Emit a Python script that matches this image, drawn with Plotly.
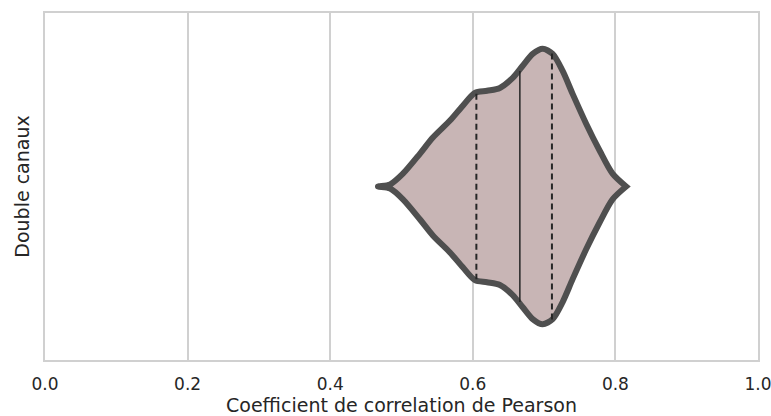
import plotly.graph_objects as go

# ─── Data (violin outline + quartiles) ─────────────────────────────────────
corr_values = [0.467, 0.484, 0.502, 0.526, 0.544, 0.568, 0.586, 0.603, 0.620,
               0.638, 0.656, 0.670, 0.684, 0.698, 0.712, 0.726, 0.740, 0.759,
               0.778, 0.796, 0.815]
density = [0.0, 0.006, 0.037, 0.095, 0.141, 0.190, 0.233, 0.270, 0.276,
           0.284, 0.313, 0.348, 0.382, 0.397, 0.382, 0.333, 0.267, 0.181,
           0.103, 0.037, 0.0]
quartiles = [0.605, 0.666, 0.711]
quartile_density = [0.267, 0.333, 0.383]
category = "Double canaux"

COLORS = {
    "fill": "#c8b5b5",
    "edge": "#4f4f4f",
    "inner": "#262626",
    "grid": "#d0d0d0",
    "text": "#262626",
}

fig = go.Figure()

# violin body: upper half then lower half, closed
xs = corr_values + corr_values[::-1]
ys = density + [-d for d in density[::-1]]
fig.add_trace(go.Scatter(
    x=xs, y=ys,
    mode="lines",
    fill="toself",
    fillcolor=COLORS["fill"],
    line=dict(color=COLORS["edge"], width=6, shape="spline", smoothing=0.8),
    hoverinfo="skip",
    showlegend=False,
))

# quartile lines: Q1 / Q3 dashed, median solid
for i, (q, d) in enumerate(zip(quartiles, quartile_density)):
    fig.add_trace(go.Scatter(
        x=[q, q], y=[-d, d],
        mode="lines",
        line=dict(color=COLORS["inner"], width=1.5 if i == 1 else 2,
                  dash="solid" if i == 1 else "6px,4px"),
        hoverinfo="skip",
        showlegend=False,
    ))

fig.update_layout(
    width=771, height=416,
    margin=dict(l=45, r=13, t=13, b=56),
    paper_bgcolor="white",
    plot_bgcolor="white",
    font=dict(family="DejaVu Sans", size=17, color=COLORS["text"]),
    xaxis=dict(
        range=[0, 1],
        tickvals=[0, 0.2, 0.4, 0.6, 0.8, 1.0],
        ticktext=["0.0", "0.2", "0.4", "0.6", "0.8", "1.0"],
        tickfont=dict(size=17),
        ticklabeloverflow="allow",
        showgrid=True, gridcolor=COLORS["grid"], gridwidth=1.5,
        zeroline=False,
        showline=True, mirror=True, linecolor=COLORS["grid"], linewidth=1.8,
        ticks="outside", ticklen=8, tickcolor="white",
        automargin=False,
        title=dict(text="Coefficient de correlation de Pearson", standoff=2,
                   font=dict(size=19)),
    ),
    yaxis=dict(
        range=[0.5, -0.5],
        showticklabels=False,
        showgrid=False,
        zeroline=False,
        showline=True, mirror=True, linecolor=COLORS["grid"], linewidth=1.8,
        automargin=False,
        title=dict(text=category, standoff=8, font=dict(size=19)),
    ),
)

# drop the default 8px body margin so the figure fills the window exactly
fig.write_html(
    "out.html",
    config={"displayModeBar": False},
    post_script="document.body.style.margin = '0';",
)
